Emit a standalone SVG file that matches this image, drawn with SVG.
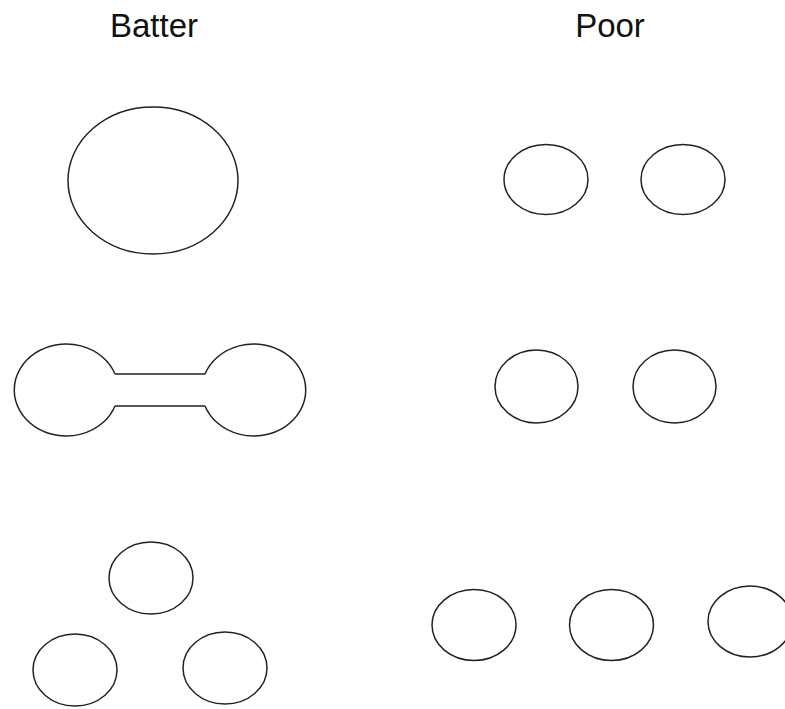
<svg xmlns="http://www.w3.org/2000/svg" width="785" height="709" viewBox="0 0 785 709">
<style>
.s{fill:none;stroke:#222;stroke-width:1.5}
.t{font-family:"Liberation Sans",Arial,sans-serif;font-size:33px;fill:#111;text-anchor:middle}
</style>
<rect width="785" height="709" fill="#fff"/>
<g id="labels">
<text class="t" x="154" y="37">Batter</text>
<text class="t" x="610" y="37">Poor</text>
</g>
<g id="better-big"><ellipse class="s" cx="153" cy="180.5" rx="85" ry="73.5"/></g>
<g id="better-dumbbell">
<path class="s" d="M115,374 A52,46 0 1 0 115,406 M205,374 A52,46 0 1 1 205,406 M115,374 H205 M115,406 H205"/>
</g>
<g id="better-triangle">
<ellipse class="s" cx="151" cy="578" rx="42" ry="36"/>
<ellipse class="s" cx="75" cy="670" rx="42" ry="36"/>
<ellipse class="s" cx="225" cy="668" rx="42" ry="36"/>
</g>
<g id="poor-row1">
<ellipse class="s" cx="546" cy="179.5" rx="42" ry="35"/>
<ellipse class="s" cx="683" cy="179.5" rx="42" ry="35"/>
</g>
<g id="poor-row2">
<ellipse class="s" cx="536.5" cy="386.5" rx="41.5" ry="36.5"/>
<ellipse class="s" cx="674.5" cy="386.5" rx="41.5" ry="36.5"/>
</g>
<g id="poor-row3">
<ellipse class="s" cx="474" cy="625" rx="42" ry="35.5"/>
<ellipse class="s" cx="611.5" cy="625" rx="42" ry="35.5"/>
<ellipse class="s" cx="750" cy="621.5" rx="42" ry="35.5"/>
</g>
</svg>
